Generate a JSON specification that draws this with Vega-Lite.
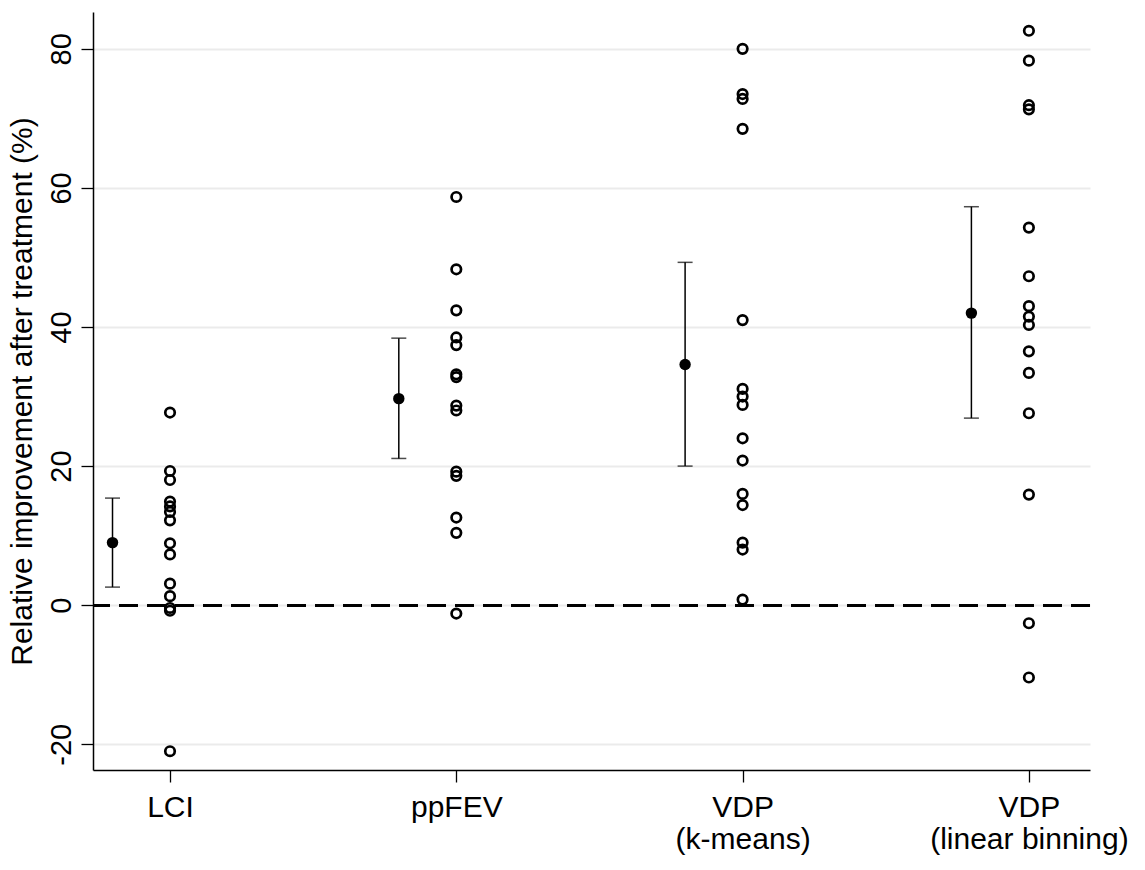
{
  "$schema": "https://vega.github.io/schema/vega-lite/v6.json",
  "width": 997,
  "height": 758,
  "autosize": {"type": "none"},
  "padding": {"left": 93, "top": 12, "right": 55, "bottom": 100},
  "background": "white",
  "config": {
    "view": {"stroke": null},
    "font": "Liberation Sans"
  },
  "datasets": {
    "obs": [
      {"measure": "LCI", "value": 27.7},
      {"measure": "LCI", "value": 19.3},
      {"measure": "LCI", "value": 18.0},
      {"measure": "LCI", "value": 14.9},
      {"measure": "LCI", "value": 14.2},
      {"measure": "LCI", "value": 13.4},
      {"measure": "LCI", "value": 12.2},
      {"measure": "LCI", "value": 8.9},
      {"measure": "LCI", "value": 7.3},
      {"measure": "LCI", "value": 3.1},
      {"measure": "LCI", "value": 1.3},
      {"measure": "LCI", "value": -0.4},
      {"measure": "LCI", "value": -0.8},
      {"measure": "LCI", "value": -21.0},
      {"measure": "ppFEV", "value": 58.7},
      {"measure": "ppFEV", "value": 48.3},
      {"measure": "ppFEV", "value": 42.4},
      {"measure": "ppFEV", "value": 38.5},
      {"measure": "ppFEV", "value": 37.4},
      {"measure": "ppFEV", "value": 33.2},
      {"measure": "ppFEV", "value": 32.8},
      {"measure": "ppFEV", "value": 28.7},
      {"measure": "ppFEV", "value": 28.0},
      {"measure": "ppFEV", "value": 19.2},
      {"measure": "ppFEV", "value": 18.6},
      {"measure": "ppFEV", "value": 12.6},
      {"measure": "ppFEV", "value": 10.4},
      {"measure": "ppFEV", "value": -1.2},
      {"measure": "VDP (k-means)", "value": 80.0},
      {"measure": "VDP (k-means)", "value": 73.5},
      {"measure": "VDP (k-means)", "value": 72.8},
      {"measure": "VDP (k-means)", "value": 68.5},
      {"measure": "VDP (k-means)", "value": 41.0},
      {"measure": "VDP (k-means)", "value": 31.1},
      {"measure": "VDP (k-means)", "value": 30.0},
      {"measure": "VDP (k-means)", "value": 28.8},
      {"measure": "VDP (k-means)", "value": 24.0},
      {"measure": "VDP (k-means)", "value": 20.8},
      {"measure": "VDP (k-means)", "value": 16.0},
      {"measure": "VDP (k-means)", "value": 14.4},
      {"measure": "VDP (k-means)", "value": 9.0},
      {"measure": "VDP (k-means)", "value": 8.0},
      {"measure": "VDP (k-means)", "value": 0.8},
      {"measure": "VDP (linear binning)", "value": 82.6},
      {"measure": "VDP (linear binning)", "value": 78.3},
      {"measure": "VDP (linear binning)", "value": 71.9},
      {"measure": "VDP (linear binning)", "value": 71.3},
      {"measure": "VDP (linear binning)", "value": 54.3},
      {"measure": "VDP (linear binning)", "value": 47.3},
      {"measure": "VDP (linear binning)", "value": 43.0},
      {"measure": "VDP (linear binning)", "value": 41.5},
      {"measure": "VDP (linear binning)", "value": 40.3},
      {"measure": "VDP (linear binning)", "value": 36.5},
      {"measure": "VDP (linear binning)", "value": 33.4},
      {"measure": "VDP (linear binning)", "value": 27.6},
      {"measure": "VDP (linear binning)", "value": 15.9},
      {"measure": "VDP (linear binning)", "value": -2.6},
      {"measure": "VDP (linear binning)", "value": -10.4}
    ],
    "summary": [
      {"measure": "LCI", "mean": 9.0, "lo": 2.6, "hi": 15.4},
      {"measure": "ppFEV", "mean": 29.7, "lo": 21.1, "hi": 38.4},
      {"measure": "VDP (k-means)", "mean": 34.6, "lo": 20.0, "hi": 49.3},
      {"measure": "VDP (linear binning)", "mean": 42.0, "lo": 26.9, "hi": 57.3}
    ]
  },
  "encoding": {
    "x": {
      "field": "measure",
      "type": "nominal",
      "sort": ["LCI", "ppFEV", "VDP (k-means)", "VDP (linear binning)"],
      "scale": {"type": "point", "domain": ["LCI", "ppFEV", "VDP (k-means)", "VDP (linear binning)"], "padding": 0.2412, "align": 0.5576},
      "axis": {
        "title": null,
        "labelAngle": 0,
        "labelFontSize": 30,
        "labelColor": "black",
        "labelPadding": 10,
        "labelLimit": 0,
        "labelLineHeight": 32,
        "labelExpr": "indexof(datum.label, ' (') > 0 ? [substring(datum.label, 0, indexof(datum.label, ' (')), substring(datum.label, indexof(datum.label, ' (') + 1)] : datum.label",
        "domainColor": "black",
        "domainWidth": 1.5,
        "tickColor": "black",
        "tickWidth": 1.3,
        "tickSize": 12,
        "grid": false
      }
    }
  },
  "layer": [
    {
      "data": {"name": "obs"},
      "mark": {"type": "rule", "color": "black", "strokeWidth": 2.5, "strokeDash": [19, 9]},
      "encoding": {
        "x": null,
        "y": {
          "datum": 0,
          "type": "quantitative",
          "scale": {"domain": [-23.7, 85.3], "nice": false, "zero": false},
          "axis": {
            "title": "Relative improvement after treatment (%)",
            "titleFontSize": 30,
            "titleFontWeight": "normal",
            "titleColor": "black",
            "titleAngle": -90,
            "titleAlign": "center",
            "titleBaseline": "middle",
            "titleX": -71,
            "titleY": 379,
            "values": [-20, 0, 20, 40, 60, 80],
            "labelExpr": "toString(datum.value)",
            "labelAngle": -90,
            "labelAlign": "center",
            "labelBaseline": "alphabetic",
            "labelFontSize": 29,
            "labelColor": "black",
            "labelPadding": 11,
            "domainColor": "black",
            "domainWidth": 1.5,
            "tickColor": "black",
            "tickWidth": 1.3,
            "tickSize": 12,
            "grid": true,
            "gridColor": "#ebebeb",
            "gridWidth": 2
          }
        }
      }
    },
    {
      "data": {"name": "summary"},
      "mark": {"type": "rule", "color": "black", "strokeWidth": 1.5, "xOffset": -57.5},
      "encoding": {
        "y": {"field": "lo", "type": "quantitative"},
        "y2": {"field": "hi"}
      }
    },
    {
      "data": {"name": "summary"},
      "mark": {"type": "tick", "color": "black", "orient": "horizontal", "size": 15, "thickness": 1.5, "xOffset": -57.5},
      "encoding": {
        "y": {"field": "lo", "type": "quantitative"}
      }
    },
    {
      "data": {"name": "summary"},
      "mark": {"type": "tick", "color": "black", "orient": "horizontal", "size": 15, "thickness": 1.5, "xOffset": -57.5},
      "encoding": {
        "y": {"field": "hi", "type": "quantitative"}
      }
    },
    {
      "data": {"name": "summary"},
      "mark": {"type": "point", "shape": "circle", "filled": true, "color": "black", "opacity": 1, "size": 130, "xOffset": -57.5},
      "encoding": {
        "y": {"field": "mean", "type": "quantitative"}
      }
    },
    {
      "data": {"name": "obs"},
      "mark": {"type": "point", "shape": "circle", "filled": false, "color": "black", "opacity": 1, "size": 90, "strokeWidth": 2.7},
      "encoding": {
        "y": {"field": "value", "type": "quantitative"}
      }
    }
  ]
}
